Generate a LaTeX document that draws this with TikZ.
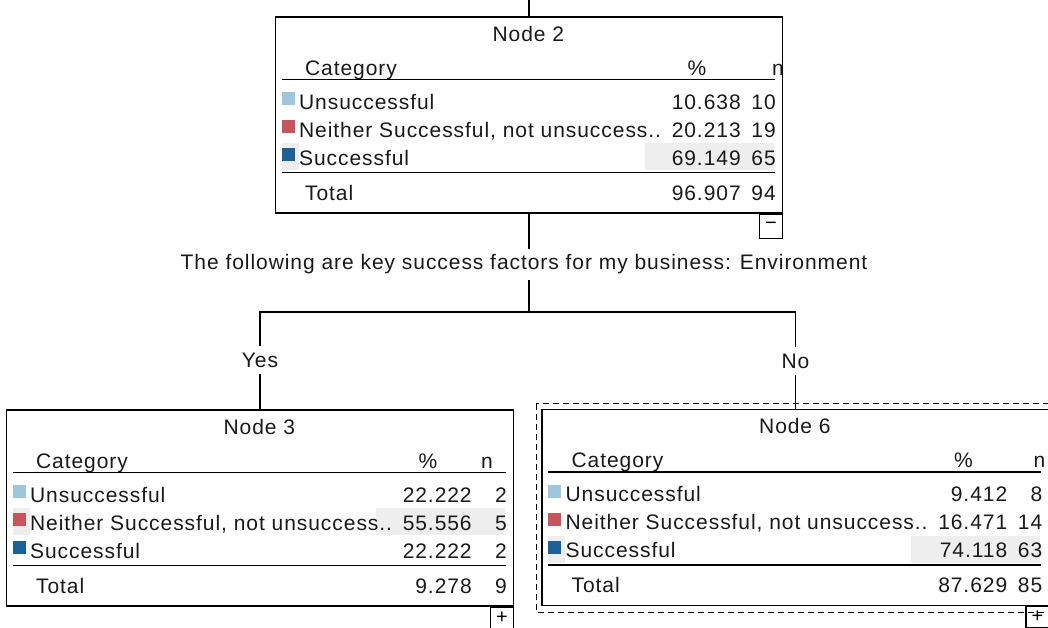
\documentclass[tikz,border=0pt]{standalone}
\usepackage{fontspec}
\setmainfont{Liberation Sans}[LetterSpace=4.5]
\usetikzlibrary{positioning}

\definecolor{catlow}{RGB}{158,199,222}
\definecolor{catmid}{RGB}{200,84,94}
\definecolor{cathigh}{RGB}{27,96,150}
\definecolor{cellgray}{RGB}{237,238,237}

% one table of a tree node: box name, title, x of the n header, values, total, highlighted row
\newcommand{\cattable}[6]{%
  \begin{scope}[shift={(#1.north west)}]
    \fill[cellgray] (7,{65+28*#6-22}) rectangle (24,{65+28*#6+5});
    \fill[cellgray] (370,{65+28*#6-22}) rectangle (499,{65+28*#6+5});
    \node[txt, anchor=base] (#1-title) at (253.5,25) {#2};
    \node[txt, anchor=base west] (#1-cat) at (30,59) {Category};
    \node[txt, anchor=base] (#1-pct) at (422,59) {\%};
    \node[txt, anchor=base] (#1-n) at (#3,59) {n};
    \draw[rule] (7,63) -- (500,63);
    \foreach \lab/\col [count=\i] in {Unsuccessful/catlow, {Neither Successful, not unsuccess..}/catmid, Successful/cathigh} {
      \fill[\col] (7,{65+28*\i-17}) rectangle (20,{65+28*\i-4});
      \node[txt, anchor=base west] (#1-l\i) at (24,{65+28*\i}) {\lab};
    }
    \foreach \p/\c [count=\i] in {#4} {
      \node[txt, anchor=base east] (#1-p\i) at (466,{65+28*\i}) {\p};
      \node[txt, anchor=base east] (#1-c\i) at (501,{65+28*\i}) {\c};
    }
    \draw[rule] (7,156) -- (500,156);
    \node[txt, anchor=base west] (#1-tot) at (30,184) {Total};
    \foreach \p/\c in {#5} {
      \node[txt, anchor=base east] (#1-tp) at (466,184) {\p};
      \node[txt, anchor=base east] (#1-tc) at (501,184) {\c};
    }
  \end{scope}}

\begin{document}
\begin{tikzpicture}[x=1pt, y=-1pt,
    txt/.style={inner sep=0pt, font=\fontsize{21}{25}\selectfont, text=black!90},
    tbox/.style={draw, line width=1.2pt, minimum width=507pt, minimum height=196pt, inner sep=0pt},
    togbox/.style={draw, line width=1.2pt, minimum width=23pt, minimum height=21pt, inner sep=0pt, font=\fontsize{20}{20}\selectfont},
    rule/.style={line width=1.4pt},
    edge/.style={line width=1.2pt},
    selframe/.style={line width=1pt, dash pattern=on 6pt off 4pt}]
  \useasboundingbox (0,0) rectangle (1048,627);

  % tree nodes
  \node[tbox] (n2) at (529,115) {};
  \node[tbox] (n3) at (260,508) {};
  \node[tbox] (n6) at (795.5,507.5) {};
  \draw[selframe] ([shift={(-5,-5)}]n6.north west) rectangle ([shift={(5,6)}]n6.south east);

  \cattable{n2}{Node 2}{503}{10.638/10, 20.213/19, 69.149/65}{96.907/94}{3}
  \cattable{n3}{Node 3}{481}{22.222/2, 55.556/5, 22.222/2}{9.278/9}{2}
  \cattable{n6}{Node 6}{498}{9.412/8, 16.471/14, 74.118/63}{87.629/85}{3}

  \node[togbox, minimum height=24pt, anchor=north east] (n2tog) at (n2.south east) {−};
  \node[togbox, anchor=north east] (n3tog) at (n3.south east) {+};
  \node[togbox, anchor=north east] (n6tog) at (n6.south east) {+};

  % split and branches
  \coordinate (root) at (n2.north |- 0,0);
  \coordinate (fork) at (n2.south |- 0,312);
  \node[txt, inner sep=6pt] (split) at (524,264.5) {The following are key success factors for my business: Environment};
  \node[txt, inner sep=6pt] (yes) at (n3.north |- 0,360) {Yes};
  \node[txt, inner sep=6pt] (no) at (n6.north |- 0,361) {No};

  \draw[edge] (root) -- (n2.north);
  \draw[edge] (n2.south) -- (n2.south |- split.north);
  \draw[edge] (n2.south |- split.south) -- (fork);
  \draw[edge] (fork) -| (yes);
  \draw[edge] (fork) -| (no);
  \draw[edge] (yes) -- (n3);
  \draw[edge] (no) -- (n6);
\end{tikzpicture}
\end{document}
